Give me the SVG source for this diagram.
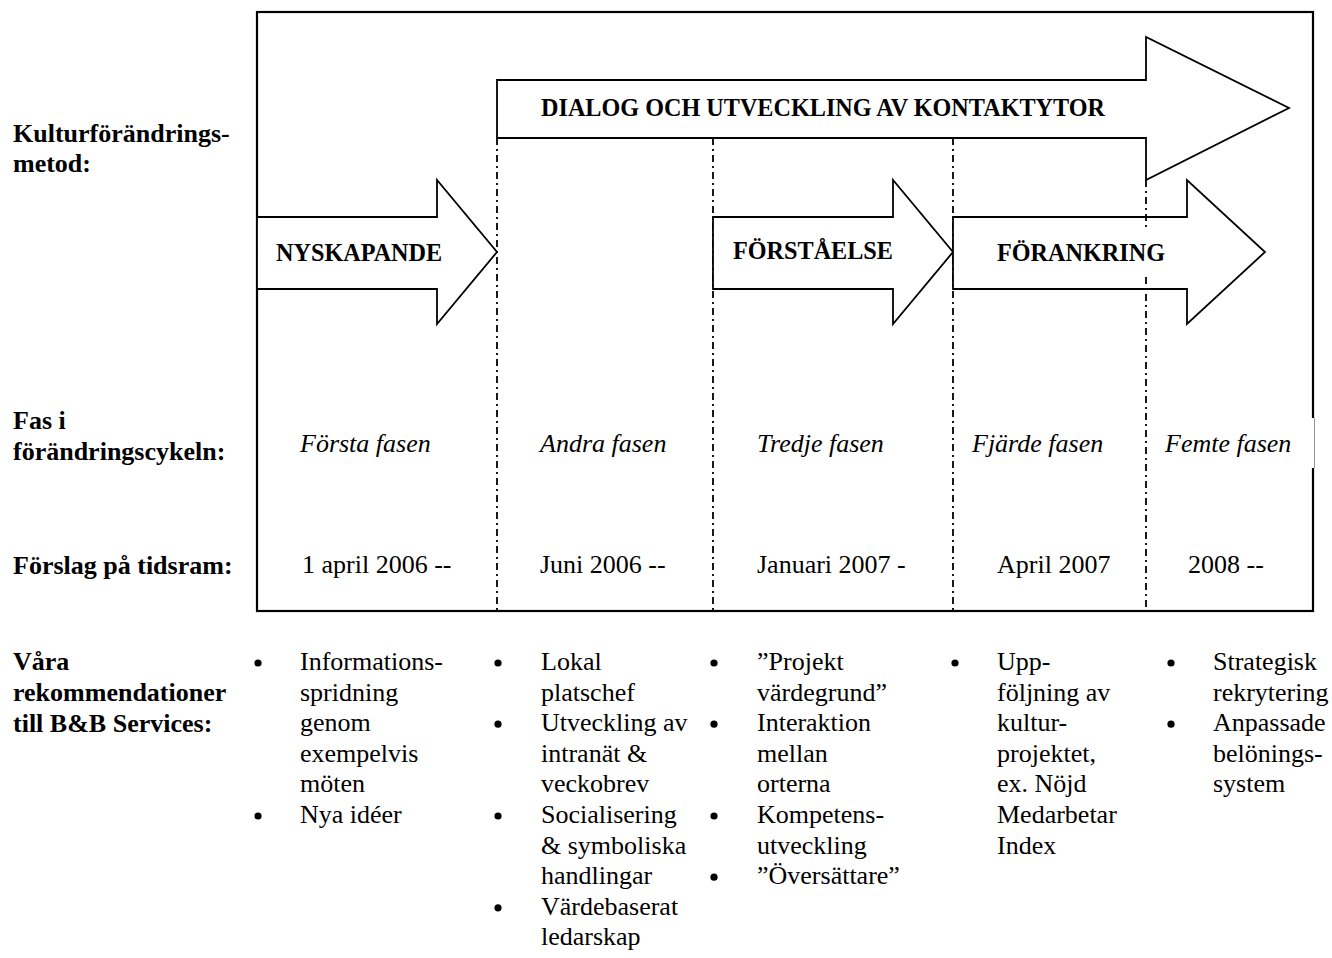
<svg xmlns="http://www.w3.org/2000/svg" width="1332" height="958" viewBox="0 0 1332 958">
  <style>
    .lbl { font-family: "Liberation Serif", "Times New Roman", serif; font-size: 26px; font-weight: bold; fill: #000; }
    .arrowtxt { font-family: "Liberation Serif", "Times New Roman", serif; font-size: 24.2px; font-weight: bold; fill: #000; }
    .phase { font-family: "Liberation Serif", "Times New Roman", serif; font-size: 26px; font-style: italic; fill: #000; }
    .txt { font-family: "Liberation Serif", "Times New Roman", serif; font-size: 26px; fill: #000; }
    .arrow { fill: #fff; stroke: #000; stroke-width: 1.8; stroke-linejoin: miter; }
    .divider { stroke: #000; stroke-width: 1.8; stroke-dasharray: 7 4 2 4; fill: none; }
    .frame { fill: none; stroke: #000; stroke-width: 2.2; }
    .dot { fill: #000; }
  </style>

  <rect width="1332" height="958" fill="#fff"/>

  <!-- row labels -->
  <g id="row-labels">
    <text class="lbl" x="13" y="142">Kulturförändrings-</text>
    <text class="lbl" x="13" y="172">metod:</text>
    <text class="lbl" x="13" y="429">Fas i</text>
    <text class="lbl" x="13" y="460">förändringscykeln:</text>
    <text class="lbl" x="13" y="574">Förslag på tidsram:</text>
    <text class="lbl" x="13" y="670">Våra</text>
    <text class="lbl" x="13" y="701">rekommendationer</text>
    <text class="lbl" x="13" y="732">till B&amp;B Services:</text>
  </g>

  <!-- outer frame -->
  <g id="frame">
    <rect class="frame" x="257" y="12" width="1056" height="599"/>
    <!-- label box of the last phase overlaps the frame edge -->
    <rect x="1300" y="418" width="16" height="50" fill="#fff"/>
    <line x1="1314.5" y1="418" x2="1314.5" y2="468" stroke="#999" stroke-width="1"/>
  </g>

  <!-- phase dividers -->
  <g id="connectors">
    <line class="divider" x1="497" y1="138" x2="497" y2="611"/>
    <line class="divider" x1="713" y1="138" x2="713" y2="611"/>
    <line class="divider" x1="953" y1="138" x2="953" y2="611"/>
  </g>

  <!-- method arrows -->
  <g id="arrow-dialog">
    <polygon class="arrow" points="497,80 1146,80 1146,37 1289,108 1146,180 1146,138 497,138"/>
    <text class="arrowtxt" x="541" y="116">DIALOG OCH UTVECKLING AV KONTAKTYTOR</text>
  </g>
  <g id="arrow-nyskapande">
    <polygon class="arrow" points="257,217 437,217 437,180 497,252 437,324 437,289 257,289"/>
    <text class="arrowtxt" x="276" y="261">NYSKAPANDE</text>
  </g>
  <g id="arrow-forstaelse">
    <polygon class="arrow" points="713,217 893,217 893,180 953,252 893,324 893,289 713,289"/>
    <text class="arrowtxt" x="733" y="259">FÖRSTÅELSE</text>
  </g>
  <g id="arrow-forankring">
    <polygon class="arrow" points="953,217 1187,217 1187,180 1265,252 1187,324 1187,289 953,289"/>
  </g>

  <!-- last divider runs through the FÖRANKRING arrow, broken by its label -->
  <g id="connectors-front">
    <line class="divider" x1="1146" y1="180" x2="1146" y2="229"/>
    <line class="divider" x1="1146" y1="277" x2="1146" y2="611"/>
  </g>
  <g id="label-forankring">
    <text class="arrowtxt" x="997" y="261">FÖRANKRING</text>
  </g>

  <!-- phases -->
  <g id="phases">
    <text class="phase" x="300" y="452">Första fasen</text>
    <text class="phase" x="540" y="452">Andra fasen</text>
    <text class="phase" x="757" y="452">Tredje fasen</text>
    <text class="phase" x="972" y="452">Fjärde fasen</text>
    <text class="phase" x="1165" y="452">Femte fasen</text>
  </g>

  <!-- time frames -->
  <g id="timeframes">
    <text class="txt" x="302" y="573">1 april 2006 --</text>
    <text class="txt" x="540" y="573">Juni 2006 --</text>
    <text class="txt" x="757" y="573">Januari 2007 -</text>
    <text class="txt" x="997" y="573">April 2007</text>
    <text class="txt" x="1188" y="573">2008 --</text>
  </g>

  <!-- recommendations, phase 1 -->
  <g id="rec-1">
    <circle class="dot" cx="258" cy="663" r="3.6"/>
    <circle class="dot" cx="258" cy="816" r="3.6"/>
    <text class="txt" x="300" y="670">Informations-</text>
    <text class="txt" x="300" y="700.6">spridning</text>
    <text class="txt" x="300" y="731.2">genom</text>
    <text class="txt" x="300" y="761.8">exempelvis</text>
    <text class="txt" x="300" y="792.4">möten</text>
    <text class="txt" x="300" y="823">Nya idéer</text>
  </g>

  <!-- recommendations, phase 2 -->
  <g id="rec-2">
    <circle class="dot" cx="498" cy="663" r="3.6"/>
    <circle class="dot" cx="498" cy="724.2" r="3.6"/>
    <circle class="dot" cx="498" cy="816" r="3.6"/>
    <circle class="dot" cx="498" cy="907.8" r="3.6"/>
    <text class="txt" x="541" y="670">Lokal</text>
    <text class="txt" x="541" y="700.6">platschef</text>
    <text class="txt" x="541" y="731.2">Utveckling av</text>
    <text class="txt" x="541" y="761.8">intranät &amp;</text>
    <text class="txt" x="541" y="792.4">veckobrev</text>
    <text class="txt" x="541" y="823">Socialisering</text>
    <text class="txt" x="541" y="853.6">&amp; symboliska</text>
    <text class="txt" x="541" y="884.2">handlingar</text>
    <text class="txt" x="541" y="914.8">Värdebaserat</text>
    <text class="txt" x="541" y="945.4">ledarskap</text>
  </g>

  <!-- recommendations, phase 3 -->
  <g id="rec-3">
    <circle class="dot" cx="714" cy="663" r="3.6"/>
    <circle class="dot" cx="714" cy="724.2" r="3.6"/>
    <circle class="dot" cx="714" cy="816" r="3.6"/>
    <circle class="dot" cx="714" cy="877.2" r="3.6"/>
    <text class="txt" x="757" y="670">”Projekt</text>
    <text class="txt" x="757" y="700.6">värdegrund”</text>
    <text class="txt" x="757" y="731.2">Interaktion</text>
    <text class="txt" x="757" y="761.8">mellan</text>
    <text class="txt" x="757" y="792.4">orterna</text>
    <text class="txt" x="757" y="823">Kompetens-</text>
    <text class="txt" x="757" y="853.6">utveckling</text>
    <text class="txt" x="757" y="884.2">”Översättare”</text>
  </g>

  <!-- recommendations, phase 4 -->
  <g id="rec-4">
    <circle class="dot" cx="955" cy="663" r="3.6"/>
    <text class="txt" x="997" y="670">Upp-</text>
    <text class="txt" x="997" y="700.6">följning av</text>
    <text class="txt" x="997" y="731.2">kultur-</text>
    <text class="txt" x="997" y="761.8">projektet,</text>
    <text class="txt" x="997" y="792.4">ex. Nöjd</text>
    <text class="txt" x="997" y="823">Medarbetar</text>
    <text class="txt" x="997" y="853.6">Index</text>
  </g>

  <!-- recommendations, phase 5 -->
  <g id="rec-5">
    <circle class="dot" cx="1171" cy="663" r="3.6"/>
    <circle class="dot" cx="1171" cy="724.2" r="3.6"/>
    <text class="txt" x="1213" y="670">Strategisk</text>
    <text class="txt" x="1213" y="700.6">rekrytering</text>
    <text class="txt" x="1213" y="731.2">Anpassade</text>
    <text class="txt" x="1213" y="761.8">belönings-</text>
    <text class="txt" x="1213" y="792.4">system</text>
  </g>
</svg>
